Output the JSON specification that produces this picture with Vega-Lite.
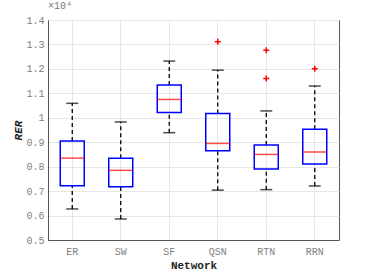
{
  "$schema": "https://vega.github.io/schema/vega-lite/v6.json",
  "width": 291,
  "height": 220,
  "autosize": {"type": "none"},
  "padding": {"left": 48, "top": 20, "right": 35, "bottom": 32},
  "background": "white",
  "title": {"text": "×10⁴", "anchor": "start", "frame": "group", "fontSize": 10, "font": "Liberation Mono", "color": "#777777", "fontWeight": "normal", "offset": 4},
  "config": {
    "view": {"stroke": "#555555", "strokeWidth": 1},
    "font": "Liberation Mono",
    "axis": {
      "labelFont": "Liberation Mono",
      "titleFont": "Liberation Mono",
      "labelFontSize": 10,
      "labelColor": "#808080",
      "grid": true,
      "gridColor": "#e6e6e6",
      "ticks": false,
      "domainColor": "#555555"
    }
  },
  "datasets": {
    "boxes": [
      {"network": "ER", "lo": 6270, "q1": 7220, "med": 8350, "q3": 9050, "hi": 10590},
      {"network": "SW", "lo": 5860, "q1": 7180, "med": 7850, "q3": 8340, "hi": 9830},
      {"network": "SF", "lo": 9390, "q1": 10220, "med": 10750, "q3": 11340, "hi": 12320},
      {"network": "QSN", "lo": 7040, "q1": 8650, "med": 8950, "q3": 10170, "hi": 11950},
      {"network": "RTN", "lo": 7060, "q1": 7900, "med": 8500, "q3": 8890, "hi": 10280},
      {"network": "RRN", "lo": 7210, "q1": 8110, "med": 8600, "q3": 9530, "hi": 11300}
    ],
    "outliers": [
      {"network": "QSN", "value": 13110},
      {"network": "RTN", "value": 12760},
      {"network": "RTN", "value": 11610},
      {"network": "RRN", "value": 12010}
    ]
  },
  "encoding": {
    "x": {
      "field": "network",
      "type": "nominal",
      "sort": ["ER", "SW", "SF", "QSN", "RTN", "RRN"],
      "scale": {"paddingInner": 0, "paddingOuter": 0},
      "axis": {
        "title": "Network",
        "titleFontSize": 11,
        "titleFontWeight": "bold",
        "titleColor": "#222222",
        "titlePadding": 3,
        "labelAngle": 0,
        "labelPadding": 6,
        "bandPosition": 0.5
      }
    }
  },
  "layer": [
    {
      "data": {"name": "boxes"},
      "mark": {"type": "rule", "color": "black", "strokeDash": [4, 3], "strokeWidth": 1.3},
      "encoding": {
        "y": {
          "field": "q3",
          "type": "quantitative",
          "scale": {"domain": [5000, 14000], "nice": false, "zero": false},
          "axis": {"title": "RER", "titleFontSize": 11, "titleFontWeight": "bold", "titleFontStyle": "italic", "titleColor": "#222222", "titlePadding": 2, "values": [5000, 6000, 7000, 8000, 9000, 10000, 11000, 12000, 13000, 14000], "labelExpr": "format(datum.value/10000, '.1~f')", "labelOverlap": false, "labelFlush": false, "labelPadding": 4}
        },
        "y2": {"field": "hi"}
      }
    },
    {
      "data": {"name": "boxes"},
      "mark": {"type": "rule", "color": "black", "strokeDash": [4, 3], "strokeWidth": 1.3},
      "encoding": {
        "y": {"field": "lo", "type": "quantitative",
          "axis": {"title": "RER", "titleFontSize": 11, "titleFontWeight": "bold", "titleFontStyle": "italic", "titleColor": "#222222", "titlePadding": 2, "values": [5000, 6000, 7000, 8000, 9000, 10000, 11000, 12000, 13000, 14000], "labelExpr": "format(datum.value/10000, '.1~f')", "labelOverlap": false, "labelFlush": false, "labelPadding": 4}},
        "y2": {"field": "q1"}
      }
    },
    {
      "data": {"name": "boxes"},
      "mark": {"type": "tick", "color": "black", "size": 12, "thickness": 1.5},
      "encoding": {
        "y": {"field": "hi", "type": "quantitative",
          "axis": {"title": "RER", "titleFontSize": 11, "titleFontWeight": "bold", "titleFontStyle": "italic", "titleColor": "#222222", "titlePadding": 2, "values": [5000, 6000, 7000, 8000, 9000, 10000, 11000, 12000, 13000, 14000], "labelExpr": "format(datum.value/10000, '.1~f')", "labelOverlap": false, "labelFlush": false, "labelPadding": 4}}
      }
    },
    {
      "data": {"name": "boxes"},
      "mark": {"type": "tick", "color": "black", "size": 12, "thickness": 1.5},
      "encoding": {
        "y": {"field": "lo", "type": "quantitative",
          "axis": {"title": "RER", "titleFontSize": 11, "titleFontWeight": "bold", "titleFontStyle": "italic", "titleColor": "#222222", "titlePadding": 2, "values": [5000, 6000, 7000, 8000, 9000, 10000, 11000, 12000, 13000, 14000], "labelExpr": "format(datum.value/10000, '.1~f')", "labelOverlap": false, "labelFlush": false, "labelPadding": 4}}
      }
    },
    {
      "data": {"name": "boxes"},
      "mark": {"type": "bar", "fill": "transparent", "stroke": "#0000ff", "strokeWidth": 1.5, "size": 24},
      "encoding": {
        "y": {"field": "q1", "type": "quantitative",
          "axis": {"title": "RER", "titleFontSize": 11, "titleFontWeight": "bold", "titleFontStyle": "italic", "titleColor": "#222222", "titlePadding": 2, "values": [5000, 6000, 7000, 8000, 9000, 10000, 11000, 12000, 13000, 14000], "labelExpr": "format(datum.value/10000, '.1~f')", "labelOverlap": false, "labelFlush": false, "labelPadding": 4}},
        "y2": {"field": "q3"}
      }
    },
    {
      "data": {"name": "boxes"},
      "mark": {"type": "tick", "color": "#ff0000", "size": 24, "thickness": 1.5},
      "encoding": {
        "y": {"field": "med", "type": "quantitative",
          "axis": {"title": "RER", "titleFontSize": 11, "titleFontWeight": "bold", "titleFontStyle": "italic", "titleColor": "#222222", "titlePadding": 2, "values": [5000, 6000, 7000, 8000, 9000, 10000, 11000, 12000, 13000, 14000], "labelExpr": "format(datum.value/10000, '.1~f')", "labelOverlap": false, "labelFlush": false, "labelPadding": 4}}
      }
    },
    {
      "data": {"name": "outliers"},
      "mark": {"type": "point", "shape": "M-1,0H1M0,-1V1", "filled": false, "stroke": "#ff0000", "strokeWidth": 1.5, "size": 36, "opacity": 1},
      "encoding": {
        "y": {"field": "value", "type": "quantitative",
          "axis": {"title": "RER", "titleFontSize": 11, "titleFontWeight": "bold", "titleFontStyle": "italic", "titleColor": "#222222", "titlePadding": 2, "values": [5000, 6000, 7000, 8000, 9000, 10000, 11000, 12000, 13000, 14000], "labelExpr": "format(datum.value/10000, '.1~f')", "labelOverlap": false, "labelFlush": false, "labelPadding": 4}}
      }
    }
  ]
}
